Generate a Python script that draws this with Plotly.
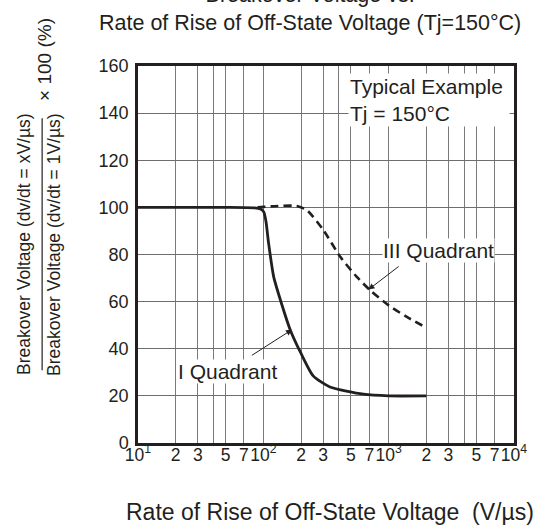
import plotly.graph_objects as go

# ---- data ----
q1_x = [10, 50, 85, 95, 101, 105, 110, 121, 140, 164, 200, 250, 340, 630, 1000, 2000]
q1_y = [100, 100, 99.8, 99.3, 98, 94, 85, 70.5, 59, 48, 38, 28.5, 23.8, 20.7, 20, 20]

q3_x = [90, 100, 130, 185, 223, 302, 411, 557, 713, 1000, 1396, 1955]
q3_y = [100, 100.2, 100.6, 100.6, 98.8, 90.3, 79, 70.5, 64.8, 58.4, 53.5, 49.2]

x_tickvals = [10, 20, 30, 40, 50, 70, 100, 200, 300, 400, 500, 700,
              1000, 2000, 3000, 4000, 5000, 7000, 10000]
x_ticktext = ["10<sup>1</sup>", "2", "3", "", "5", "7", "10<sup>2</sup>", "2", "3", "", "5", "7",
              "10<sup>3</sup>", "2", "3", "", "5", "7", "10<sup>4</sup>"]
x_decades = [10, 100, 1000, 10000]
y_tickvals = [0, 20, 40, 60, 80, 100, 120, 140, 160]

INK = "#231f20"
FONT = "Liberation Sans, Arial, sans-serif"

fig = go.Figure()
fig.add_trace(go.Scatter(x=q1_x, y=q1_y, mode="lines",
                         line=dict(color=INK, width=2.8, shape="spline", smoothing=0.6),
                         showlegend=False, hoverinfo="skip"))
fig.add_trace(go.Scatter(x=q3_x, y=q3_y, mode="lines",
                         line=dict(color=INK, width=2.6, dash="8px,5px", shape="spline", smoothing=0.6),
                         showlegend=False, hoverinfo="skip"))

fig.update_layout(
    width=550, height=526,
    margin=dict(l=137.5, r=36, t=65.7, b=83.3, autoexpand=False),
    paper_bgcolor="white", plot_bgcolor="white",
    font=dict(family=FONT, color=INK, size=18),
    xaxis=dict(type="log", range=[1, 4], tickvals=x_tickvals, ticktext=x_ticktext,
               tickangle=0, ticklabelstandoff=-6,
               showgrid=True, gridcolor="#7a7a7a", gridwidth=1.3,
               showline=True, linecolor=INK, linewidth=2.5, mirror=True,
               ticks="",
               tickfont=dict(size=17.5), zeroline=False),
    xaxis2=dict(type="log", range=[1, 4], tickvals=x_decades, overlaying="x", anchor="y",
                showticklabels=False, showgrid=True, gridcolor=INK, gridwidth=1.6,
                showline=False, ticks=""),
    yaxis=dict(range=[0, 160], tickvals=y_tickvals,
               showgrid=True, gridcolor="#6e6e6e", gridwidth=1.4,
               showline=True, linecolor=INK, linewidth=2.5, mirror=True,
               ticks="outside", ticklen=3, tickcolor="rgba(0,0,0,0)",
               tickfont=dict(size=18), zeroline=False),
)

ann = []
# title (first line partially above the page)
ann.append(dict(text="Breakover Voltage vs.<br>Rate of Rise of Off-State Voltage (Tj=150°C)",
                xref="paper", yref="paper", x=0.458, y=1.152, xanchor="center", yanchor="middle",
                showarrow=False, font=dict(size=21.5)))
# x title
ann.append(dict(text="Rate of Rise of Off-State Voltage  (V/µs)", xref="paper", yref="paper",
                x=(330 - 137.5) / 376.5, y=(442.7 - 511.7) / 377, xanchor="center", yanchor="middle",
                showarrow=False, font=dict(size=23)))
# y title as fraction
ann.append(dict(text="Breakover Voltage (dv/dt = xV/µs)", xref="paper", yref="paper",
                x=(24 - 137.5) / 376.5, y=(442.7 - 244) / 377, xanchor="center", yanchor="middle",
                textangle=-90, showarrow=False, font=dict(size=17.5)))
ann.append(dict(text="Breakover Voltage (dv/dt = 1V/µs)", xref="paper", yref="paper",
                x=(54 - 137.5) / 376.5, y=(442.7 - 244) / 377, xanchor="center", yanchor="middle",
                textangle=-90, showarrow=False, font=dict(size=17.5)))
ann.append(dict(text="× 100 (%)", xref="paper", yref="paper",
                x=(44 - 137.5) / 376.5, y=(442.7 - 59) / 377, xanchor="center", yanchor="middle",
                textangle=-90, showarrow=False, font=dict(size=19)))
# inside labels
ann.append(dict(text="Typical Example<br>Tj = 150°C", xref="paper", yref="paper",
                x=(348 - 137.5) / 376.5, y=(442.7 - 73) / 377, xanchor="left", yanchor="top",
                align="left", width=158, borderpad=1, bgcolor="white",
                showarrow=False, font=dict(size=21)))
ann.append(dict(text="I Quadrant", x=1.713, y=30.4, xanchor="center", yanchor="middle",
                bgcolor="white", borderpad=0, showarrow=False, font=dict(size=21)))
ann.append(dict(text="III Quadrant", x=3.394, y=81.8, xanchor="center", yanchor="middle",
                bgcolor="white", borderpad=0, showarrow=False, font=dict(size=21)))
# arrows
ann.append(dict(text="", x=2.2287, y=48.1, ax=1.8964, ay=36.8, axref="x", ayref="y",
                showarrow=True, arrowhead=2, arrowsize=1.2, arrowwidth=1, arrowcolor=INK))
ann.append(dict(text="", x=2.839, y=65.1, ax=3.0916, ay=75.4, axref="x", ayref="y",
                showarrow=True, arrowhead=2, arrowsize=1.2, arrowwidth=1, arrowcolor=INK))
fig.update_layout(annotations=ann)

fig.add_shape(type="line", xref="paper", yref="paper",
              x0=(41.5 - 137.5) / 376.5, x1=(41.5 - 137.5) / 376.5,
              y0=(442.7 - 370) / 377, y1=(442.7 - 118) / 377,
              line=dict(color=INK, width=1.2))

fig.write_html("out.html", config={"displayModeBar": False},
               post_script="document.body.style.margin='0';document.body.style.padding='0';")
